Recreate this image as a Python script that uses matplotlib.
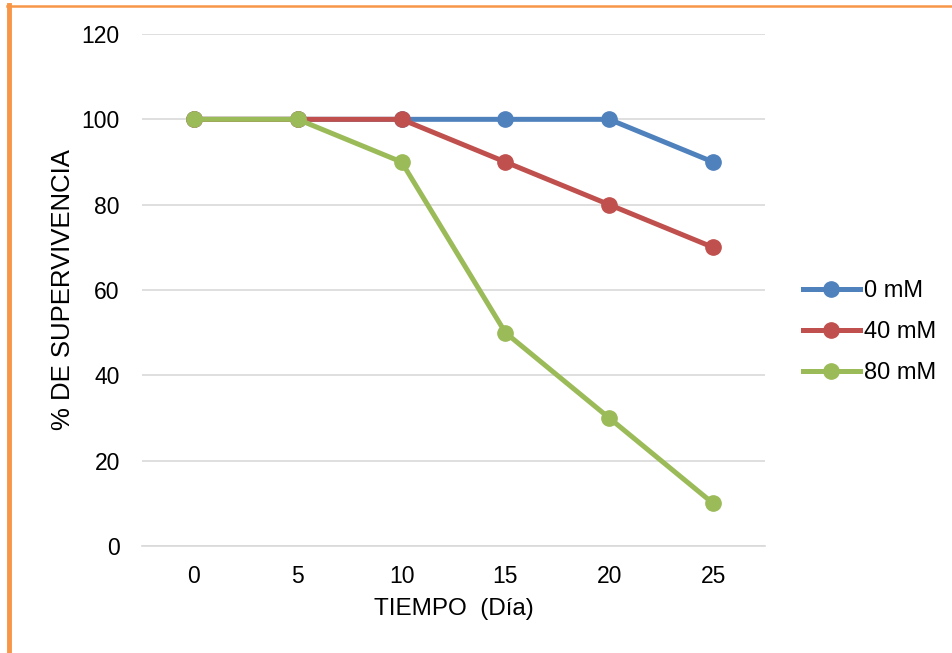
import matplotlib
matplotlib.use("Agg")
import matplotlib.pyplot as plt
from matplotlib.lines import Line2D

plt.rcParams['font.family'] = ['Liberation Sans', 'DejaVu Sans']

dias = ["0", "5", "10", "15", "20", "25"]
serie_0mM = [100, 100, 100, 100, 100, 90]
serie_40mM = [100, 100, 100, 90, 80, 70]
serie_80mM = [100, 100, 90, 50, 30, 10]
etiquetas = ["0 mM", "40 mM", "80 mM"]
colores = ["#4F81BD", "#C0504D", "#9BBB59"]
yticks = [0, 20, 40, 60, 80, 100, 120]

fig = plt.figure(figsize=(9.52, 6.53), dpi=100)
W, H = 952, 653
ax = fig.add_axes([142 / W, 1 - 546 / H, (765 - 142) / W, (546 - 34) / H])

x = list(range(len(dias)))
for vals, c, lab in zip([serie_0mM, serie_40mM, serie_80mM], colores, etiquetas):
    ax.plot(x, vals, color=c, lw=3.6, marker="o", ms=11, label=lab,
            solid_capstyle="round", zorder=3)

ax.set_xlim(-0.5, len(dias) - 0.5)
ax.set_ylim(0, 120)
ax.set_xticks(x)
ax.set_xticklabels(dias)
ax.set_yticks(yticks)
ax.grid(axis="y", color="#D9D9D9", lw=1.2)
ax.set_axisbelow(True)
for s in ["top", "right", "left"]:
    ax.spines[s].set_visible(False)
ax.spines["bottom"].set_color("#D9D9D9")
ax.spines["bottom"].set_linewidth(1.2)
ax.tick_params(length=0, labelsize=16.5, colors="black")
ax.tick_params(axis="x", pad=14)
ax.tick_params(axis="y", pad=16)

ax.set_xlabel("TIEMPO  (Día)", fontsize=17.5, labelpad=7)
ax.set_ylabel("% DE SUPERVIVENCIA", fontsize=18.5, labelpad=5)

handles = [Line2D([0], [0], color=c, lw=3.6, marker="o", ms=11) for c in colores]
fig.legend(handles, etiquetas, loc="center left", bbox_to_anchor=(803 / W, 1 - 332 / H),
           frameon=False, fontsize=17, handlelength=2.4, handletextpad=0.2,
           labelspacing=0.8, borderaxespad=0, borderpad=0)

# orange frame on the left and top edges
fig.add_artist(Line2D([9 / W, 9 / W], [0, 1 - 5 / H], color="#F79646", lw=3.5,
                      transform=fig.transFigure))
fig.add_artist(Line2D([7 / W, 1], [1 - 6 / H, 1 - 6 / H], color="#F79646", lw=1.8,
                      transform=fig.transFigure))

fig.savefig("out.png", dpi=100)
